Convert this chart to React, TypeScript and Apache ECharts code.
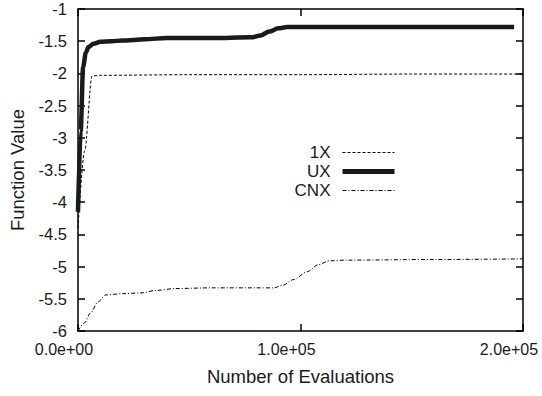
import React, { useEffect, useRef } from "react";
import * as echarts from "echarts";

const xTickLabels = ["0.0e+00", "1.0e+05", "2.0e+05"];
const yTicks = [-1, -1.5, -2, -2.5, -3, -3.5, -4, -4.5, -5, -5.5, -6];

const seriesNames = ["1X", "UX", "CNX"];

const oneXEvals = [0, 3000, 6300, 10000, 50000, 100000, 150000, 200000];
const oneXValues = [-4.4, -3.2, -2.04, -2.03, -2.02, -2.02, -2.01, -2.01];

const uxEvals = [0, 1200, 2300, 3500, 4700, 7000, 10000, 15000, 20000, 30000, 40000, 60000, 78000, 82000, 86000, 90000, 94000, 100000, 150000, 196000];
const uxValues = [-4.15, -2.9, -1.9, -1.68, -1.59, -1.54, -1.51, -1.5, -1.49, -1.47, -1.45, -1.45, -1.44, -1.41, -1.35, -1.3, -1.28, -1.28, -1.28, -1.28];

const cnxEvals = [0, 3000, 5600, 9000, 12400, 20000, 28000, 35000, 44000, 60000, 80000, 88000, 92000, 97000, 103000, 108000, 113000, 120000, 160000, 200000];
const cnxValues = [-6.0, -5.87, -5.72, -5.55, -5.44, -5.42, -5.41, -5.37, -5.34, -5.33, -5.33, -5.33, -5.29, -5.2, -5.08, -4.97, -4.91, -4.9, -4.89, -4.88];

const zip = (xs: number[], ys: number[]) => xs.map((x, i) => [x, ys[i]]);

const fmtExp = (v: number) => {
  const [m, e] = v.toExponential(1).split("e");
  const sign = e[0] === "-" ? "-" : "+";
  const digits = e.replace(/^[+-]/, "").padStart(2, "0");
  return `${m}e${sign}${digits}`;
};

const FONT = "Liberation Sans, Arial, Helvetica, sans-serif";
const TXT = "#1a1a1a";

export default function App() {
  const ref = useRef<HTMLDivElement>(null);
  useEffect(() => {
    if (!ref.current) return;
    const chart = echarts.init(ref.current, undefined, { renderer: "svg" });
    const tickStyle = { show: true, inside: true, length: 7, lineStyle: { color: "#000", width: 1.5 } };
    const axisLine = { show: true, onZero: false, lineStyle: { color: "#000", width: 1.5 } };
    const hidden = { opacity: 0, color: "rgba(0,0,0,0)", borderWidth: 0 };
    chart.setOption({
      animation: false,
      backgroundColor: "#fff",
      textStyle: { fontFamily: FONT },
      grid: { left: 78, right: 19, top: 9, bottom: 65, containLabel: false, outerBoundsMode: "none" },
      legend: {
        orient: "vertical",
        align: "right",
        right: 145,
        top: 144,
        padding: 0,
        itemWidth: 52,
        itemHeight: 17,
        itemGap: 2,
        itemStyle: hidden,
        data: [
          { name: seriesNames[0], itemStyle: hidden, lineStyle: { color: "#000", width: 1, type: [3, 2] } },
          { name: seriesNames[1], itemStyle: hidden, lineStyle: { color: "#1a1a1a", width: 5, type: "solid" } },
          { name: seriesNames[2], itemStyle: hidden, lineStyle: { color: "#000", width: 1, type: [4, 2, 1, 2] } },
        ],
        textStyle: { fontFamily: FONT, fontSize: 17, lineHeight: 17, color: TXT, padding: [0, 7, 0, 0] },
      },
      xAxis: [
        {
          type: "value",
          min: 0,
          max: 200000,
          interval: 100000,
          position: "bottom",
          name: "Number of Evaluations",
          nameLocation: "middle",
          nameGap: 36,
          nameTextStyle: { fontFamily: FONT, fontSize: 18.5, color: TXT },
          axisLine,
          axisTick: tickStyle,
          splitLine: { show: false },
          axisLabel: {
            margin: 10,
            fontFamily: FONT,
            fontSize: 16,
            color: TXT,
            padding: [0, 28, 0, 0],
            hideOverlap: false,
            formatter: (v: number) => xTickLabels[Math.round(v / 100000)] ?? fmtExp(v),
          },
        },
        {
          type: "value",
          min: 0,
          max: 200000,
          interval: 100000,
          position: "top",
          axisLine,
          axisTick: tickStyle,
          splitLine: { show: false },
          axisLabel: { show: false },
        },
      ],
      yAxis: [
        {
          type: "value",
          min: -6,
          max: -1,
          interval: 0.5,
          position: "left",
          name: "Function Value",
          nameLocation: "middle",
          nameGap: 51,
          nameTextStyle: { fontFamily: FONT, fontSize: 18.5, color: TXT },
          axisLine,
          axisTick: tickStyle,
          splitLine: { show: false },
          axisLabel: {
            margin: 11,
            fontFamily: FONT,
            fontSize: 16.5,
            color: TXT,
            formatter: (v: number) => {
              const t = yTicks.find((y) => Math.abs(y - v) < 1e-9);
              return t !== undefined ? String(t) : String(v);
            },
          },
        },
        {
          type: "value",
          min: -6,
          max: -1,
          interval: 0.5,
          position: "right",
          axisLine,
          axisTick: tickStyle,
          splitLine: { show: false },
          axisLabel: { show: false },
        },
      ],
      series: [
        {
          name: seriesNames[0],
          type: "line",
          data: zip(oneXEvals, oneXValues),
          symbol: "none",
          smooth: 0.3,
          smoothMonotone: "x",
          lineStyle: { color: "#000", width: 1, type: [3, 2] },
          itemStyle: { color: "#000" },
          z: 3,
        },
        {
          name: seriesNames[1],
          type: "line",
          data: zip(uxEvals, uxValues),
          symbol: "none",
          smooth: 0.3,
          smoothMonotone: "x",
          lineStyle: { color: "#1a1a1a", width: 4.5 },
          itemStyle: { color: "#1a1a1a" },
          z: 4,
        },
        {
          name: seriesNames[2],
          type: "line",
          data: zip(cnxEvals, cnxValues),
          symbol: "none",
          smooth: 0.3,
          smoothMonotone: "x",
          lineStyle: { color: "#000", width: 1, type: [4, 2, 1, 2] },
          itemStyle: { color: "#000" },
          z: 3,
        },
      ],
    });
    return () => chart.dispose();
  }, []);
  return <div ref={ref} style={{ width: 542, height: 396, position: "absolute", left: 0, top: 0 }} />;
}
